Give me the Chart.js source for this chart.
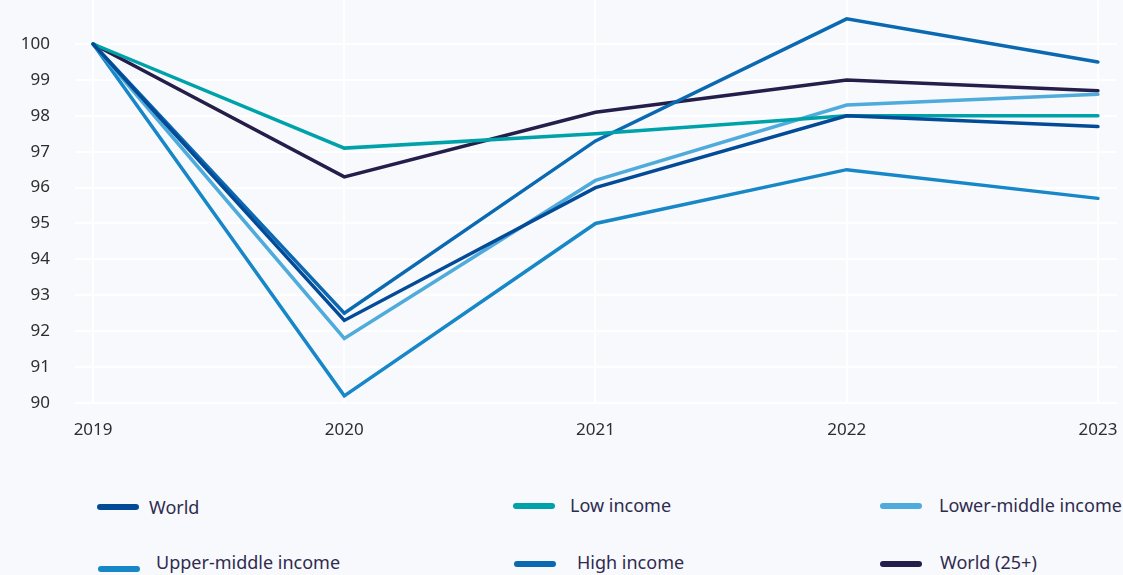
<!DOCTYPE html>
<html>
<head>
<meta charset="utf-8">
<script src="https://cdn.jsdelivr.net/npm/chart.js@4/dist/chart.umd.min.js"></script>
<style>
  html, body { margin: 0; padding: 0; background: #f7f9fd; }
  body { width: 1123px; height: 575px; position: relative; overflow: hidden; font-family: "Noto Sans", sans-serif; }
  #wrap { position: absolute; left: 0; top: -10px; width: 1123px; height: 460px; }
  .sw { position: absolute; width: 42px; height: 6px; border-radius: 3px; }
  .tx { position: absolute; color: #2f2b4e; font-size: 18px; line-height: 24px; white-space: nowrap; }
</style>
</head>
<body>
<div id="wrap"><canvas id="chart"></canvas></div>
<div id="legend"></div>
<script>
const years = [2019, 2020, 2021, 2022, 2023];
const seriesNames = ['World', 'Low income', 'Lower-middle income', 'Upper-middle income', 'High income', 'World (25+)'];
const world = [100, 92.3, 96.0, 98.0, 97.7];
const lowIncome = [100, 97.1, 97.5, 98.0, 98.0];
const lowerMiddle = [100, 91.8, 96.2, 98.3, 98.6];
const upperMiddle = [100, 90.2, 95.0, 96.5, 95.7];
const highIncome = [100, 92.5, 97.3, 100.7, 99.5];
const world25 = [100, 96.3, 98.1, 99.0, 98.7];
const yTicks = [90, 91, 92, 93, 94, 95, 96, 97, 98, 99, 100];

const colors = ['#034b97', '#00a2aa', '#4eabdb', '#1787c8', '#0a69b1', '#251e4a'];
const allValues = [world, lowIncome, lowerMiddle, upperMiddle, highIncome, world25];

// legend: 3 columns x 2 rows, swatch and text placed separately
const legendPos = [
  { sx: 97, sy: 504, tx: 149, ty: 495 },
  { sx: 513, sy: 503, tx: 570, ty: 493 },
  { sx: 880, sy: 503, tx: 939, ty: 493 },
  { sx: 98, sy: 566, tx: 156, ty: 550 },
  { sx: 514, sy: 561, tx: 577, ty: 550 },
  { sx: 880, sy: 561, tx: 940, ty: 550 }
];
const legendEl = document.getElementById('legend');
seriesNames.forEach((name, i) => {
  const p = legendPos[i];
  const sw = document.createElement('div');
  sw.className = 'sw';
  sw.style.left = p.sx + 'px';
  sw.style.top = p.sy + 'px';
  sw.style.background = colors[i];
  const t = document.createElement('div');
  t.className = 'tx';
  t.style.left = p.tx + 'px';
  t.style.top = p.ty + 'px';
  t.textContent = name;
  legendEl.appendChild(sw);
  legendEl.appendChild(t);
});

const datasets = seriesNames.map((name, i) => ({
  label: name,
  data: years.map((y, j) => ({ x: y, y: allValues[i][j] })),
  borderColor: colors[i],
  backgroundColor: colors[i],
  borderWidth: 3.5,
  borderCapStyle: 'round',
  borderJoinStyle: 'miter',
  pointRadius: 0,
  tension: 0
}));

new Chart(document.getElementById('chart'), {
  type: 'line',
  data: { datasets },
  options: {
    responsive: true,
    maintainAspectRatio: false,
    animation: false,
    layout: { padding: { left: 0, right: 6, top: 10, bottom: 0 } },
    plugins: { legend: { display: false }, tooltip: { enabled: false } },
    scales: {
      x: {
        type: 'linear',
        min: 2018.928,
        max: 2023.076,
        afterBuildTicks: (axis) => { axis.ticks = years.map(v => ({ value: v })); },
        afterFit: (axis) => { axis.height = 47; },
        ticks: {
          padding: 0,
          color: '#2e2e2e',
          font: { family: 'Noto Sans', size: 17 },
          callback: (v) => String(v)
        },
        grid: { color: '#ffffff', lineWidth: 2, drawTicks: true, tickLength: 17, tickColor: 'rgba(0,0,0,0)' },
        border: { display: false }
      },
      y: {
        min: 90,
        max: 101.22,
        afterBuildTicks: (axis) => { axis.ticks = yTicks.map(v => ({ value: v })); },
        afterFit: (axis) => { axis.width = 75; },
        ticks: {
          padding: 0,
          color: '#2e2e2e',
          font: { family: 'Noto Sans', size: 17 }
        },
        grid: { color: '#ffffff', lineWidth: 2, drawTicks: true, tickLength: 25, tickColor: 'rgba(0,0,0,0)' },
        border: { display: false }
      }
    }
  }
});
</script>
</body>
</html>
